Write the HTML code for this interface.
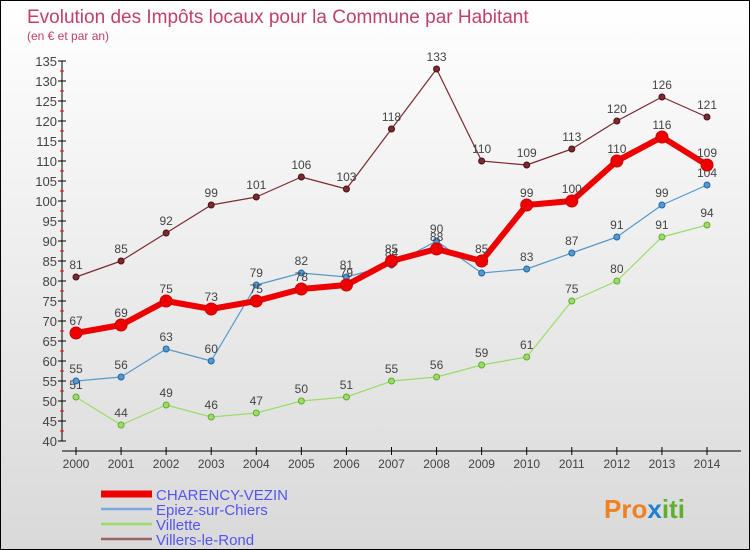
<!DOCTYPE html>
<html><head><meta charset="utf-8"><style>
body{margin:0}
#c{width:750px;height:550px;position:relative;overflow:hidden;box-sizing:border-box;border:1px solid #000;background:linear-gradient(#ffffff,#d9d9d9);font-family:"Liberation Sans",sans-serif}
svg{position:absolute;left:0;top:0}
</style></head><body>
<div id="c">
<svg id="s" width="750" height="550">
<text x="26" y="22" font-size="19" fill="#c0406a">Evolution des Impôts locaux pour la Commune par Habitant</text>
<text x="26" y="39" font-size="12" fill="#c0406a">(en € et par an)</text>
<text x="603" y="517" font-size="26" font-weight="bold" fill="#f08020">Pro<tspan fill="#2080d0">x</tspan><tspan fill="#60b030">iti</tspan></text>
</svg>
</div>
<script>
const years=[2000,2001,2002,2003,2004,2005,2006,2007,2008,2009,2010,2011,2012,2013,2014];
const yTicks=[40,45,50,55,60,65,70,75,80,85,90,95,100,105,110,115,120,125,130,135];
const charency=[67,69,75,73,75,78,79,85,88,85,99,100,110,116,109];
const epiez=[55,56,63,60,79,82,81,84,90,82,83,87,91,99,104];
const villette=[51,44,49,46,47,50,51,55,56,59,61,75,80,91,94];
const villers=[81,85,92,99,101,106,103,118,133,110,109,113,120,126,121];
const svg=document.getElementById('s');const NS='http://www.w3.org/2000/svg';
function X(i){return 75+i*(706-75)/(years.length-1);}
function Y(v){return 440-(v-40)*4;}
function mk(t,a,p){const e=document.createElementNS(NS,t);for(const k in a)e.setAttribute(k,a[k]);(p||svg).appendChild(e);return e;}
// axes
let ax=mk('line',{x1:61,y1:60,x2:61,y2:440,stroke:'#000'});


let xa=mk('line',{x1:61,y1:450,x2:740,y2:450,stroke:'#000'});


yTicks.forEach(v=>{mk('line',{x1:57,y1:Y(v),x2:65,y2:Y(v),stroke:'#000'});
 if(v<135)mk('line',{x1:59,y1:Y(v+2.5),x2:63,y2:Y(v+2.5),stroke:'#f00'});
 const t=mk('text',{x:56,y:Y(v)+5,'text-anchor':'end','font-size':13,fill:'#444'});t.textContent=v;
 
 });
years.forEach((y,i)=>{mk('line',{x1:X(i),y1:446,x2:X(i),y2:454,stroke:'#000'});
 const t=mk('text',{x:X(i),y:467,'text-anchor':'middle','font-size':12,fill:'#444'});t.textContent=y;
 
 });
function series(d,col,w,r,name,dark){
 const g=mk('g',{});
 
 
 mk('polyline',{points:d.map((v,i)=>X(i)+','+Y(v)).join(' '),fill:'none',stroke:col,'stroke-width':w,'stroke-linejoin':'round'},g);
 d.forEach((v,i)=>{const c=mk('circle',{cx:X(i),cy:Y(v),r:r,fill:col,stroke:dark,'stroke-width':1},g);
  
  
  const t=mk('text',{x:X(i),y:Y(v)-8,'text-anchor':'middle','font-size':12,fill:'#444'},g);t.textContent=v;});
}
series(villers,'#7a2a30',1.2,3,'villers-le-rond','#4a1010');
series(villette,'#99dd66',1.2,3,'villette','#66aa33');
series(epiez,'#5599cc',1.2,3,'epiez-sur-chiers','#2266aa');
series(charency,'#ee0000',6,6,'charency-vezin','#cc0000');
const leg=[['CHARENCY-VEZIN','#ee0000',7],['Epiez-sur-Chiers','#77aadd',2.5],['Villette','#99dd66',2.5],['Villers-le-Rond','#996666',2.5]];
leg.forEach((l,i)=>{const y=493+i*15;
 const g=mk('g',{});
 
 
 mk('line',{x1:100,y1:y,x2:151,y2:y,stroke:l[1],'stroke-width':l[2]},g);
 const t=mk('text',{x:155,y:y+6,'font-size':15,fill:'#5555ee'},g);t.textContent=l[0];});
</script>
</body></html>
